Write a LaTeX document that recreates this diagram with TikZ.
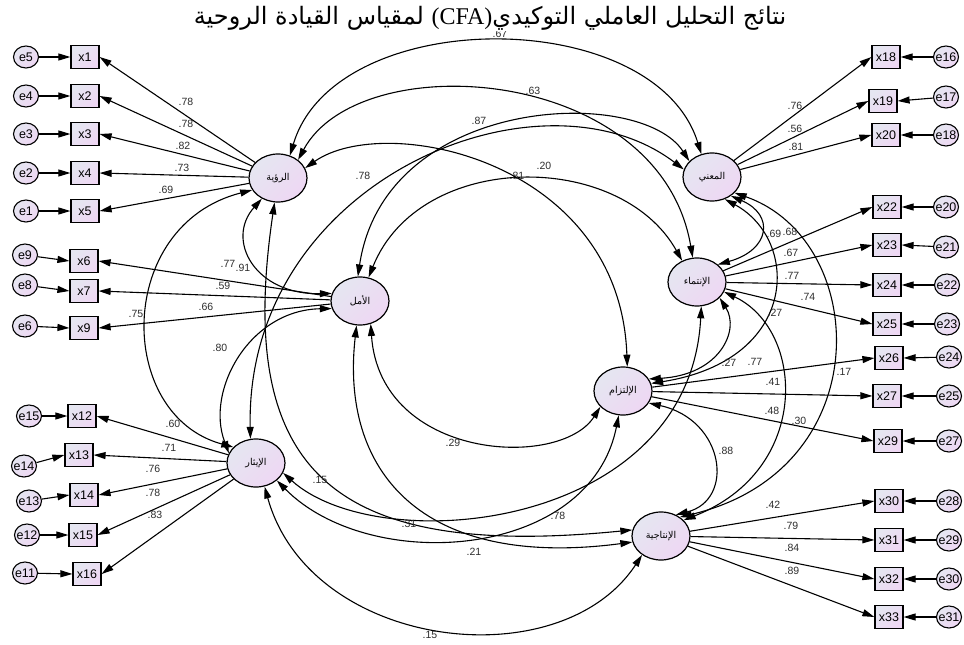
\documentclass[tikz,border=0pt]{standalone}
\usepackage{fontspec}
\setmainfont{Liberation Sans}
\newfontfamily\arabicfont[Script=Arabic]{DejaVu Sans}
\newfontfamily\titlelatin{Liberation Serif}
\TeXXeTstate=1
\usetikzlibrary{arrows.meta,shapes.geometric}
\definecolor{gA}{RGB}{229,230,241}
\definecolor{gB}{RGB}{238,215,243}
\definecolor{lbl}{RGB}{45,45,45}
\tikzset{
  latent/.style={ellipse, draw, line width=1.2pt, minimum width=58pt, minimum height=48pt, inner sep=0pt,
    top color=gA, bottom color=gB, shading angle=45, font=\arabicfont\fontsize{9.5}{10}\selectfont},
  obs/.style={rectangle, draw, line width=1.2pt, minimum width=28pt, minimum height=23pt, inner sep=0pt,
    top color=gA, bottom color=gB, shading angle=45, font=\fontsize{12.5}{13}\selectfont},
  err/.style={ellipse, draw, line width=1.1pt, minimum width=25pt, minimum height=22pt, inner sep=0pt,
    top color=gA, bottom color=gB, shading angle=45, font=\fontsize{12.5}{13}\selectfont},
  load/.style={line width=1.1pt, -{Triangle[length=12pt,width=7pt]}},
  cov/.style={line width=1.1pt, {Triangle[length=12pt,width=7pt]}-{Triangle[length=12pt,width=7pt]}},
  num/.style={font=\fontsize{10.5}{11}\selectfont, text=lbl, inner sep=0pt},
}
\begin{document}
\begin{tikzpicture}[x=1pt,y=-1pt]
\useasboundingbox (0,0) rectangle (964,645);

% latent variables
\node[latent] (R) at (278,178) {\makebox[0pt]{الرؤية}};
\node[latent] (A) at (360,301) {\makebox[0pt]{الأمل}};
\node[latent] (I) at (256,463) {\makebox[0pt]{الإيثار}};
\node[latent] (M) at (712,177) {\makebox[0pt]{المعني}};
\node[latent] (B) at (697,282) {\makebox[0pt]{الإنتماء}};
\node[latent] (C) at (623,391) {\makebox[0pt]{الإلتزام}};
\node[latent] (P) at (661,536) {\makebox[0pt]{الإنتاجية}};

% left indicators
\node[obs] (x1) at (85,57) {x1};
\node[obs] (x2) at (85,96) {x2};
\node[obs] (x3) at (85,134) {x3};
\node[obs] (x4) at (85,173) {x4};
\node[obs] (x5) at (85,211) {x5};
\node[obs] (x6) at (84,261) {x6};
\node[obs] (x7) at (84,291) {x7};
\node[obs] (x9) at (84,328) {x9};
\node[obs] (x12) at (82,416) {x12};
\node[obs] (x13) at (79,455) {x13};
\node[obs] (x14) at (84,495) {x14};
\node[obs] (x15) at (83,535) {x15};
\node[obs] (x16) at (87,574) {x16};

\node[err] (e5) at (26,57) {\makebox[0pt]{e5}};
\node[err] (e4) at (26,96) {\makebox[0pt]{e4}};
\node[err] (e3) at (26,134) {\makebox[0pt]{e3}};
\node[err] (e2) at (26,173) {\makebox[0pt]{e2}};
\node[err] (e1) at (26,211) {\makebox[0pt]{e1}};
\node[err] (e9) at (25,255) {\makebox[0pt]{e9}};
\node[err] (e8) at (25,285) {\makebox[0pt]{e8}};
\node[err] (e6) at (25,326) {\makebox[0pt]{e6}};
\node[err] (e15) at (29,416) {\makebox[0pt]{e15}};
\node[err] (e14) at (24,466) {\makebox[0pt]{e14}};
\node[err] (e13) at (29,501) {\makebox[0pt]{e13}};
\node[err] (e12) at (27,535) {\makebox[0pt]{e12}};
\node[err] (e11) at (25,573) {\makebox[0pt]{e11}};

% right indicators
\node[obs] (x18) at (886,57) {x18};
\node[obs] (x19) at (883,101) {x19};
\node[obs] (x20) at (886,135) {x20};
\node[obs] (x22) at (887,207) {x22};
\node[obs] (x23) at (887,245) {x23};
\node[obs] (x24) at (887,285) {x24};
\node[obs] (x25) at (887,324) {x25};
\node[obs] (x26) at (889,358) {x26};
\node[obs] (x27) at (887,396) {x27};
\node[obs] (x29) at (888,441) {x29};
\node[obs] (x30) at (889,501) {x30};
\node[obs] (x31) at (889,540) {x31};
\node[obs] (x32) at (889,579) {x32};
\node[obs] (x33) at (889,617) {x33};

\node[err] (e16) at (946,57) {\makebox[0pt]{e16}};
\node[err] (e17) at (946,97) {\makebox[0pt]{e17}};
\node[err] (e18) at (946,135) {\makebox[0pt]{e18}};
\node[err] (e20) at (946,207) {\makebox[0pt]{e20}};
\node[err] (e21) at (946,247) {\makebox[0pt]{e21}};
\node[err] (e22) at (947,285) {\makebox[0pt]{e22}};
\node[err] (e23) at (947,324) {\makebox[0pt]{e23}};
\node[err] (e24) at (949,357) {\makebox[0pt]{e24}};
\node[err] (e25) at (949,396) {\makebox[0pt]{e25}};
\node[err] (e27) at (949,441) {\makebox[0pt]{e27}};
\node[err] (e28) at (949,501) {\makebox[0pt]{e28}};
\node[err] (e29) at (949,540) {\makebox[0pt]{e29}};
\node[err] (e30) at (949,579) {\makebox[0pt]{e30}};
\node[err] (e31) at (949,617) {\makebox[0pt]{e31}};

% error arrows
\foreach \e/\x in {e5/x1,e4/x2,e3/x3,e2/x4,e1/x5,e9/x6,e8/x7,e6/x9,e15/x12,e14/x13,e13/x14,e12/x15,e11/x16}
  \draw[load] (\e) -- (\x.west);
\foreach \e/\x in {e16/x18,e17/x19,e18/x20,e20/x22,e21/x23,e22/x24,e23/x25,e24/x26,e25/x27,e27/x29,e28/x30,e29/x31,e30/x32,e31/x33}
  \draw[load] (\e) -- (\x.east);

% loadings
\foreach \x in {x1,x2,x3,x4,x5} \draw[load] (R) -- (\x.east);
\foreach \x in {x6,x7,x9} \draw[load] (A) -- (\x.east);
\foreach \x in {x12,x13,x14,x15,x16} \draw[load] (I) -- (\x.east);
\foreach \x in {x18,x19,x20} \draw[load] (M) -- (\x.west);
\foreach \x in {x22,x23,x24,x25} \draw[load] (B) -- (\x.west);
\foreach \x in {x26,x27,x29} \draw[load] (C) -- (\x.west);
\foreach \x in {x30,x31,x32,x33} \draw[load] (P) -- (\x.west);

% covariances
\draw[cov] (R.62) .. controls (335,4) and (655,4) .. (M.115);
\draw[cov] (R.42) .. controls (360,45) and (660,65) .. (B.100);
\draw[cov] (R.20) .. controls (385,112) and (620,160) .. (C.80);
\draw[cov] (R.232) .. controls (225,240) and (255,295) .. (A.165);
\draw[cov] (R.205) .. controls (115,225) and (115,415) .. (I.145);
\draw[cov] (R.262) .. controls (235,470) and (330,560) .. (P.168);
\draw[cov] (A.95) .. controls (385,95) and (640,85) .. (M.145);
\draw[cov] (A.70) .. controls (420,150) and (620,150) .. (B.125);
\draw[cov] (A.195) .. controls (250,310) and (205,390) .. (I.160);
\draw[cov] (A.295) .. controls (380,460) and (560,470) .. (C.215);
\draw[cov] (A.262) .. controls (340,470) and (420,570) .. (P.192);
\draw[cov] (I.103) .. controls (245,180) and (540,60) .. (M.165);
\draw[cov] (I.340) .. controls (380,560) and (690,530) .. (B.280);
\draw[cov] (I.320) .. controls (370,575) and (590,560) .. (C.260);
\draw[cov] (I.290) .. controls (310,650) and (560,680) .. (P.225);
\draw[cov] (M.315) .. controls (775,215) and (770,250) .. (B.40);
\draw[cov] (M.300) .. controls (800,240) and (800,360) .. (C.15);
\draw[cov] (M.325) .. controls (870,240) and (880,470) .. (P.45);
\draw[cov] (B.325) .. controls (740,330) and (720,375) .. (C.25);
\draw[cov] (B.340) .. controls (805,330) and (812,470) .. (P.35);
\draw[cov] (C.335) .. controls (725,420) and (735,500) .. (P.55);

% loading labels
\node[num] (l1) at (186,102) {.78};
\node[num] (l2) at (186,124) {.78};
\node[num] (l3) at (183,146) {.82};
\node[num] (l4) at (182,168) {.73};
\node[num] (l5) at (166,190) {.69};
\node[num] (l6) at (228,264) {.77};
\node[num] (l7) at (223,286) {.59};
\node[num] (l8) at (206,307) {.66};
\node[num] (l9) at (173,424) {.60};
\node[num] (l10) at (169,448) {.71};
\node[num] (l11) at (153,469) {.76};
\node[num] (l12) at (153,493) {.78};
\node[num] (l13) at (155,515) {.83};
\node[num] (l14) at (795,106) {.76};
\node[num] (l15) at (795,129) {.56};
\node[num] (l16) at (796,147) {.81};
\node[num] (l17) at (790,232) {.68};
\node[num] (l18) at (791,253) {.67};
\node[num] (l19) at (792,276) {.77};
\node[num] (l20) at (808,297) {.74};
\node[num] (l21) at (755,362) {.77};
\node[num] (l22) at (773,382) {.41};
\node[num] (l23) at (772,411) {.48};
\node[num] (l24) at (773,505) {.42};
\node[num] (l25) at (791,526) {.79};
\node[num] (l26) at (792,548) {.84};
\node[num] (l27) at (792,571) {.89};

% covariance labels
\node[num] (c1) at (500,34) {.67};
\node[num] (c2) at (533,91) {.63};
\node[num] (c3) at (479,121) {.87};
\node[num] (c4) at (544,166) {.20};
\node[num] (c5) at (363,176) {.78};
\node[num] (c6) at (517,176) {.81};
\node[num] (c7) at (243,268) {.91};
\node[num] (c8) at (136,314) {.75};
\node[num] (c9) at (220,348) {.80};
\node[num] (c10) at (453,443) {.29};
\node[num] (c11) at (320,480) {.15};
\node[num] (c12) at (409,524) {.31};
\node[num] (c13) at (558,516) {.78};
\node[num] (c14) at (474,552) {.21};
\node[num] (c15) at (430,635) {.15};
\node[num] (c16) at (774,234) {.69};
\node[num] (c17) at (775,313) {.27};
\node[num] (c18) at (729,363) {.27};
\node[num] (c19) at (844,372) {.17};
\node[num] (c20) at (799,421) {.30};
\node[num] (c21) at (726,451) {.88};

% title
\node[fill=white, inner sep=1pt, font=\arabicfont\fontsize{24}{26}\selectfont] (title) at (490,18)
  {\beginR نتائج التحليل العاملي التوكيدي\beginL{\titlelatin(CFA)}\endL{} لمقياس القيادة الروحية\endR};
\end{tikzpicture}
\end{document}
